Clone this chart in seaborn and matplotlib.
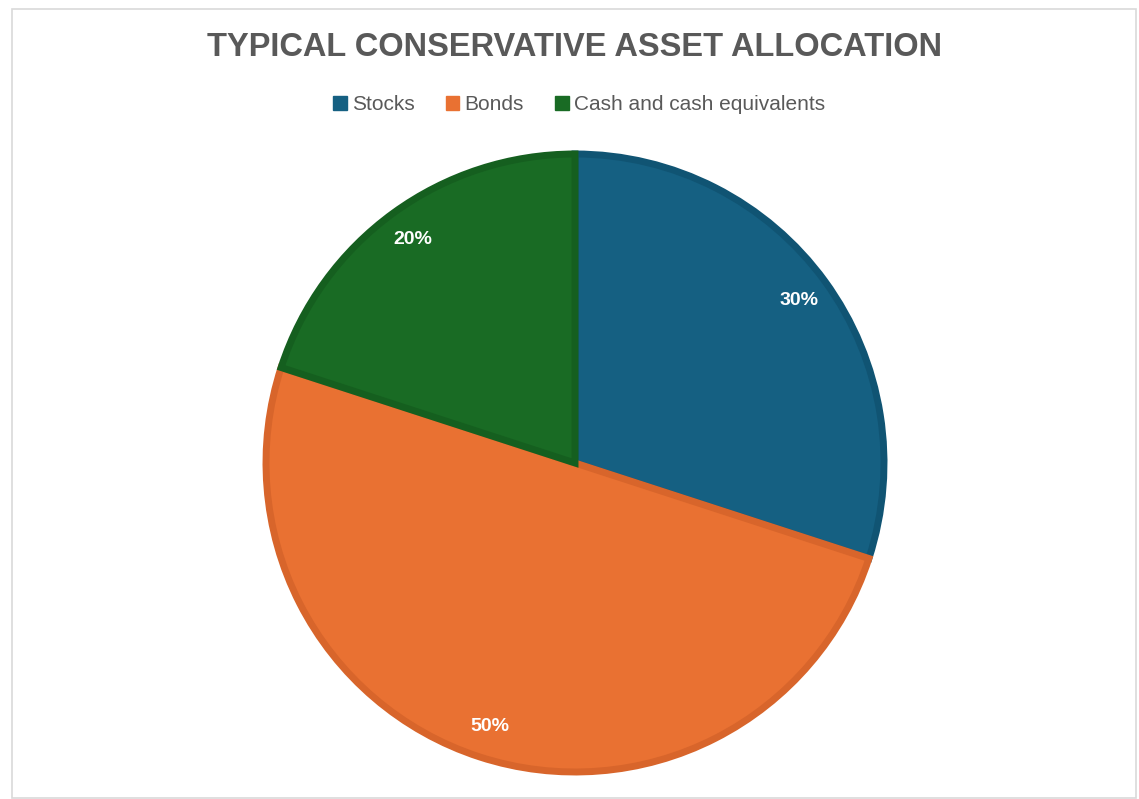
import matplotlib
matplotlib.use("Agg")
import matplotlib.pyplot as plt
from matplotlib.patches import Rectangle, Patch
import seaborn as sns

categories = ["Stocks", "Bonds", "Cash and cash equivalents"]
values = [30, 50, 20]
colors = ["#156082", "#E97132", "#196B24"]
edge_colors = ["#105473", "#D8652B", "#155F1F"]
title = "TYPICAL CONSERVATIVE ASSET ALLOCATION"

sns.set_theme(style="white")
plt.rcParams["font.family"] = ["Liberation Sans", "DejaVu Sans"]

W, H = 1139, 799
fig = plt.figure(figsize=(W / 100, H / 100), dpi=100)
fig.patch.set_facecolor("white")

# outer chart border
fig.add_artist(Rectangle((12 / W, 1 - 798 / H), (1136 - 12) / W, (798 - 9) / H,
                         transform=fig.transFigure, fill=False,
                         edgecolor="#D9D9D9", linewidth=1.2))

cx, cy, r = 575, 463, 309
ax = fig.add_axes([(cx - r) / W, (H - cy - r) / H, 2 * r / W, 2 * r / H])
wedges, texts, autotexts = ax.pie(
    values, colors=colors, startangle=90, counterclock=False,
    autopct="%1.0f%%", pctdistance=0.895,
    wedgeprops=dict(linewidth=5),
    textprops=dict(color="white", fontsize=14, fontweight="bold"))
for w, ec in zip(wedges, edge_colors):
    w.set_edgecolor(ec)
    w.set_joinstyle("miter")
    w.set_clip_on(False)
ax.set_xlim(-1, 1)
ax.set_ylim(-1, 1)
ax.set_aspect("auto")
ax.axis("off")

fig.text(cx / W, 1 - 47 / H, title, ha="center", va="center",
         fontsize=23.5, fontweight="bold", color="#595959")

handles = [Patch(facecolor=c, edgecolor=c, label=l) for c, l in zip(colors, categories)]
fig.legend(handles=handles, loc="center", bbox_to_anchor=(579 / W, 1 - 105 / H),
           ncol=3, frameon=False, fontsize=15, handlelength=0.65, handleheight=0.65,
           handletextpad=0.25, columnspacing=1.5, labelcolor="#595959")

fig.savefig("out.png", dpi=100)
